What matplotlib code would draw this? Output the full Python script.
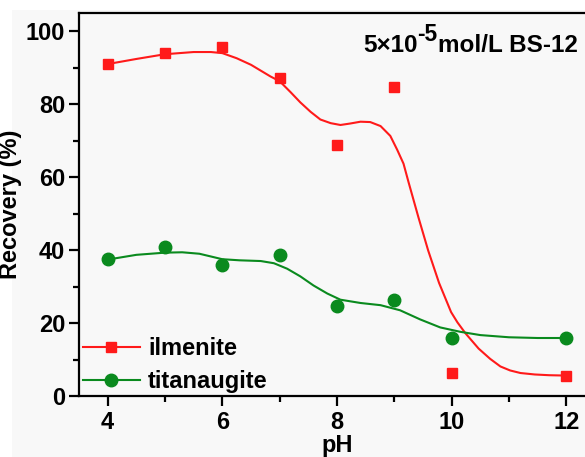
import matplotlib.pyplot as plt
from matplotlib.patches import Rectangle

# measured points
ph = [4, 5, 6, 7, 8, 9, 10, 12]
ilmenite = [91.0, 94.0, 95.6, 87.3, 68.8, 84.7, 6.3, 5.5]
titanaugite = [37.5, 40.8, 36.0, 38.7, 24.6, 26.2, 15.8, 15.9]

# smoothed curves
ilm_fit_ph = [4.0, 4.5, 5.0, 5.5, 5.8, 6.0, 6.25, 6.5, 6.84, 7.0, 7.19, 7.36,
              7.54, 7.71, 7.89, 8.06, 8.23, 8.41, 8.58, 8.76, 8.93, 9.05,
              9.16, 9.25, 9.42, 9.59, 9.78, 9.99, 10.1, 10.24, 10.47, 10.67,
              10.85, 11.02, 11.2, 11.45, 11.7, 12.0]
ilm_fit = [91.0, 92.4, 93.7, 94.3, 94.3, 94.0, 92.6, 90.8, 87.6, 86.3, 83.3,
           80.5, 77.9, 75.8, 74.8, 74.3, 74.7, 75.2, 75.1, 74.0, 71.3, 67.5,
           63.7, 58.5, 49.0, 39.9, 31.0, 23.0, 20.2, 17.2, 13.0, 10.2, 8.1,
           7.0, 6.3, 5.9, 5.7, 5.6]
tit_fit_ph = [4.0, 4.5, 5.0, 5.3, 5.6, 6.0, 6.3, 6.67, 6.9, 7.13, 7.36, 7.59,
              7.83, 8.06, 8.41, 8.76, 9.1, 9.45, 9.8, 10.15, 10.5, 11.0, 11.5,
              12.0]
tit_fit = [37.4, 38.7, 39.3, 39.4, 39.0, 37.5, 37.2, 37.0, 36.4, 34.9, 32.8,
           30.3, 28.1, 26.4, 25.5, 24.9, 23.5, 21.0, 18.8, 17.6, 16.7, 16.1,
           15.9, 15.9]

RED = "#ff1a1a"
GREEN = "#0a8a1e"
BG = "#f8f8f8"
FS = 17

plt.rcParams["font.family"] = ["Liberation Sans", "DejaVu Sans"]
plt.rcParams["font.weight"] = "bold"

fig = plt.figure(figsize=(5.85, 4.57), dpi=100, facecolor="white")
# grey screenshot background, white strip top and left
fig.patches.append(Rectangle((12 / 585, 0), 1, 1 - 10 / 457,
                             transform=fig.transFigure, facecolor=BG,
                             edgecolor="none", zorder=-10))

ax = fig.add_axes([79 / 585, 61 / 457, 516 / 585, 383 / 457])
ax.set_facecolor(BG)

ax.plot(ilm_fit_ph, ilm_fit, color=RED, lw=1.5, zorder=2)
ax.plot(tit_fit_ph, tit_fit, color=GREEN, lw=1.5, zorder=2)
ax.plot(ph, ilmenite, ls="none", marker="s", ms=7.5, color=RED, zorder=3)
ax.plot(ph, titanaugite, ls="none", marker="o", ms=9, color=GREEN, zorder=3)

# legend handles: line with marker
h1, = ax.plot([], [], color=RED, lw=1.5, marker="s", ms=7.5)
h2, = ax.plot([], [], color=GREEN, lw=1.5, marker="o", ms=9)
ax.legend([h1, h2], ["ilmenite", "titanaugite"], loc="lower left",
          bbox_to_anchor=(-0.024, -0.035), frameon=False, fontsize=FS,
          handlelength=2.4, handletextpad=0.35, labelspacing=0.4,
          borderaxespad=0.3)

ax.set_xlim(3.5, 12.5)
ax.set_ylim(0, 105)
ax.set_xticks([4, 6, 8, 10, 12])
ax.set_xticks([5, 7, 9, 11], minor=True)
ax.set_yticks([0, 20, 40, 60, 80, 100])
ax.set_yticks([10, 30, 50, 70, 90], minor=True)

for s in ax.spines.values():
    s.set_linewidth(1.6)
ax.tick_params(which="both", direction="out", width=1.6, labelsize=FS)
ax.tick_params(which="major", length=7)
ax.tick_params(which="minor", length=4)
ax.tick_params(axis="x", which="major", pad=4)
ax.tick_params(axis="y", which="major", pad=3)
for lab in ax.get_xticklabels() + ax.get_yticklabels():
    lab.set_fontweight("bold")

ax.set_xlabel("pH", fontsize=FS, fontweight="bold", labelpad=0)
ax.set_ylabel("Recovery (%)", fontsize=FS, fontweight="bold")
ax.yaxis.set_label_coords(-0.11, 0.5)

# condition note with a full-size superscript
t1 = fig.text(363 / 585, 1 - 52 / 457, "5×10", fontsize=17.5,
              fontweight="bold", ha="left", va="baseline")
t2 = ax.annotate("-5", xy=(1, 0), xycoords=t1, xytext=(0, 8),
                 textcoords="offset points", fontsize=16.5, fontweight="bold",
                 ha="left", va="bottom")
ax.annotate("mol/L BS-12", xy=(1, 0), xycoords=t1, xytext=(15, 0),
            textcoords="offset points", fontsize=17.5, fontweight="bold",
            ha="left", va="bottom", annotation_clip=False)

fig.savefig("out.png", dpi=100, facecolor="white")
